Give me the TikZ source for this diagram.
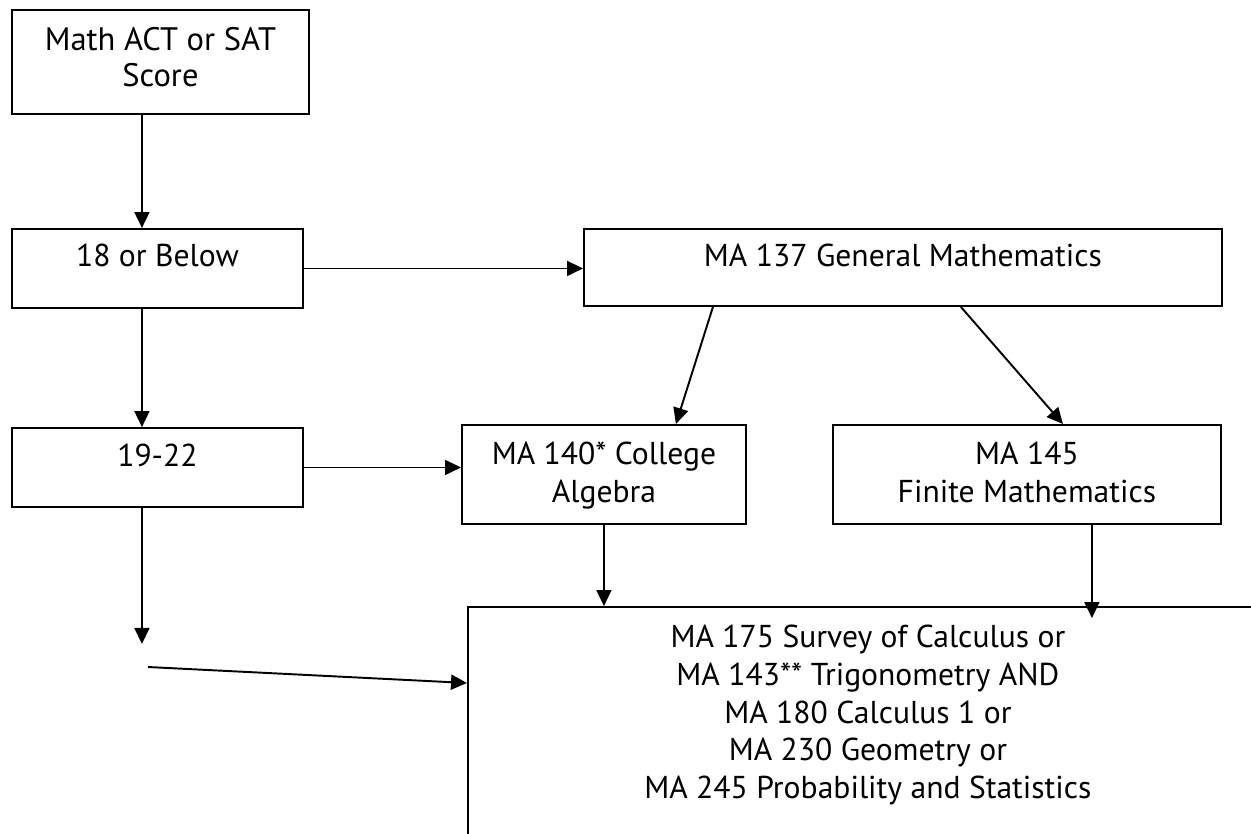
\documentclass[tikz,border=0pt]{standalone}
\usepackage{fontspec}
\setmainfont{PT Sans}
\usetikzlibrary{arrows.meta}

\begin{document}
\begin{tikzpicture}[x=0.02cm, y=-0.02cm]
        \tikzstyle{caixa}=[draw=black, line width=1.1pt, rectangle, anchor=north west, inner sep=0pt, align=center, font=\fontsize{18}{22}\selectfont]
        \tikzstyle{seta}=[line width=1.1pt, -{Triangle[length=0.32cm, width=0.3cm]}]

        \useasboundingbox (0,0) rectangle (1251,833);

        \node (score) at (11,9)[caixa, minimum width=5.94cm, text height=1.54cm, text depth=0.54cm, font=\fontsize{18.5}{20.5}\selectfont]{Math ACT or SAT\\Score};
        \node (below) at (11,228)[caixa, minimum width=5.82cm, text height=0.76cm, text depth=0.82cm]{18 or Below};
        \node (ma137) at (583,228)[caixa, minimum width=12.76cm, text height=0.76cm, text depth=0.78cm]{MA 137 General Mathematics};
        \node (mid) at (11,427)[caixa, minimum width=5.82cm, text height=0.78cm, text depth=0.8cm]{19-22};
        \node (ma140) at (461,424)[caixa, minimum width=5.68cm, text height=1.56cm, text depth=0.42cm]{MA 140* College\\Algebra};
        \node (ma145) at (832,424)[caixa, minimum width=7.76cm, text height=1.56cm, text depth=0.42cm]{MA 145\\Finite Mathematics};
        \node (bot) at (467,606)[caixa, minimum width=16cm, text height=3.84cm, text depth=1.16cm, font=\fontsize{18}{21.6}\selectfont]{MA 175 Survey of Calculus or\\MA 143** Trigonometry AND\\MA 180 Calculus 1 or\\MA 230 Geometry or\\MA 245 Probability and Statistics};

        \coordinate (fim) at ([xshift=-0.31cm, yshift=-2.72cm]mid.south);
        \coordinate (ini) at (148,667);
        \coordinate (c145) at ([xshift=1.3cm]ma145.south);

        \draw[seta] ([xshift=-0.37cm]score.south) -- ([xshift=-0.31cm]below.north);
        \draw[seta] ([xshift=-0.31cm]below.south) -- ([xshift=-0.31cm]mid.north);
        \draw[seta] (below.east) -- (below.east -| ma137.west);
        \draw[seta] ([xshift=-3.8cm]ma137.south) -- ([xshift=1.44cm]ma140.north);
        \draw[seta] ([xshift=1.16cm]ma137.south) -- ([xshift=0.72cm]ma145.north);
        \draw[seta] (mid.east) -- (mid.east -| ma140.west);
        \draw[seta] (ma140.south) -- (ma140.south |- bot.north);
        \draw[seta] (c145) -- ([yshift=-0.24cm]c145 |- bot.north);
        \draw[seta] ([xshift=-0.31cm]mid.south) -- (fim);
        \draw[seta] (ini) -- ([yshift=-1.54cm]bot.north west);
      \end{tikzpicture}
\end{document}
